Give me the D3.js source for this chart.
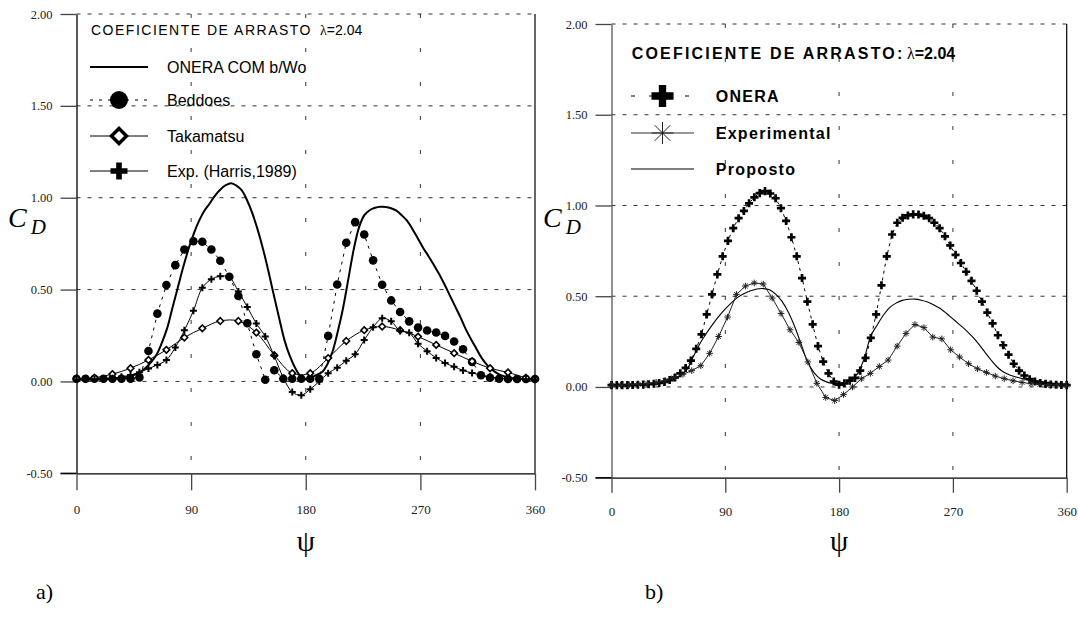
<!DOCTYPE html>
<html>
<head>
<meta charset="utf-8">
<script src="https://cdn.jsdelivr.net/npm/d3@7"></script>
<style>
  body { margin: 0; background: #fff; }
  svg { display: block; }
</style>
</head>
<body>
<svg id="fig" width="1078" height="617"></svg>
<script>
// ticks
const psiTicks = [0, 90, 180, 270, 360];
const cdTicks = [-0.5, 0, 0.5, 1, 1.5, 2];

// ONERA (both panels)
const oneraPsi = [0,4.2,8.4,12.6,16.7,20.9,25.1,29.3,33.5,37.7,41.9,46,50.2,54.4,58.6,62.8,67,71.2,75.3,79.5,
  83.7,87.9,92.1,96.3,100.5,104.7,108.8,113,117.2,121.4,125.6,129.8,134,138.1,142.3,146.5,150.7,154.9,159.1,163.3,
  167.4,171.6,175.8,180,184.2,188.4,192.6,196.7,200.9,205.1,209.3,213.5,217.7,221.9,226,230.2,234.4,238.6,242.8,247,
  251.2,255.3,259.5,263.7,267.9,272.1,276.3,280.5,284.7,288.8,293,297.2,301.4,305.6,309.8,314,318.1,322.3,326.5,330.7,
  334.9,339.1,343.3,347.4,351.6,355.8,360];
const oneraCd = [0.01,0.01,0.01,0.01,0.011,0.012,0.013,0.015,0.018,0.022,0.028,0.038,0.052,0.075,0.105,0.145,0.21,0.29,0.40,0.51,
  0.62,0.72,0.805,0.875,0.93,0.97,1.012,1.045,1.068,1.079,1.066,1.04,0.985,0.915,0.825,0.72,0.6,0.47,0.345,0.225,
  0.14,0.075,0.03,0.012,0.02,0.035,0.05,0.09,0.16,0.27,0.4,0.56,0.72,0.84,0.905,0.932,0.945,0.951,0.95,0.943,
  0.93,0.905,0.875,0.83,0.78,0.728,0.683,0.635,0.585,0.53,0.47,0.41,0.35,0.285,0.23,0.178,0.128,0.09,0.063,0.043,
  0.03,0.022,0.017,0.014,0.012,0.011,0.01];

// Beddoes and experimental share the same psi stations
const expPsi = [0,7.1,14.1,21.2,28.2,35.3,42.4,49.4,56.5,63.5,70.6,77.6,84.7,91.8,98.8,105.9,112.9,120,127.1,134.1,
  141.2,148.2,155.3,162.4,169.4,176.5,183.5,190.6,197.6,204.7,211.8,218.8,225.9,232.9,240,247.1,254.1,261.2,268.2,275.3,
  282.4,289.4,296.5,303.5,310.6,317.6,324.7,331.8,338.8,345.9,352.9,360];
const beddoesCd = [0.015,0.015,0.015,0.015,0.015,0.015,0.015,0.022,0.166,0.369,0.525,0.633,0.718,0.763,0.76,0.718,0.657,0.57,0.465,0.317,
  0.148,0.009,0.061,0.015,0.015,0.015,0.015,0.015,0.248,0.528,0.755,0.867,0.80,0.659,0.526,0.441,0.378,0.327,0.293,0.277,
  0.266,0.248,0.217,0.175,0.106,0.034,0.02,0.015,0.013,0.013,0.013,0.013];
const expCd = [0.01,0.01,0.012,0.015,0.018,0.025,0.035,0.05,0.07,0.09,0.117,0.185,0.278,0.385,0.51,0.556,0.573,0.567,0.49,0.405,
  0.315,0.245,0.138,0.02,-0.058,-0.075,-0.042,0.0,0.045,0.075,0.113,0.148,0.225,0.295,0.344,0.327,0.275,0.265,0.205,0.165,
  0.128,0.1,0.08,0.06,0.046,0.034,0.025,0.018,0.014,0.012,0.011,0.01];

// Takamatsu
const takaPsi = [0,14.1,28.2,42.4,56.5,70.6,84.7,98.8,112.9,127.1,141.2,155.3,169.4,183.5,197.6,211.8,225.9,240,254.1,268.2,
  282.4,296.5,310.6,324.7,338.8,352.9,360];
const takaCd = [0.015,0.02,0.04,0.072,0.117,0.172,0.239,0.289,0.329,0.329,0.266,0.143,0.045,0.045,0.127,0.22,0.279,0.299,0.279,0.244,
  0.199,0.154,0.11,0.072,0.049,0.02,0.013];

// Proposto (panel b)
const propPsi = [0,10,20,30,40,50,55,60,65,70,75,80,85,90,95,100,105,110,115,120,125,130,135,140,145,150,155,160,165,170,
  175,180,185,190,195,200,205,210,215,220,225,230,235,240,245,250,255,260,265,270,275,280,285,290,295,300,305,310,315,320,
  330,340,350,360];
const propCd = [0.01,0.01,0.012,0.015,0.025,0.045,0.065,0.1,0.17,0.24,0.295,0.345,0.39,0.43,0.465,0.495,0.515,0.53,0.54,0.542,
  0.535,0.51,0.47,0.41,0.33,0.235,0.14,0.08,0.045,0.028,0.02,0.02,0.025,0.04,0.08,0.16,0.28,0.34,0.395,0.437,
  0.462,0.477,0.483,0.484,0.478,0.468,0.452,0.432,0.405,0.375,0.345,0.315,0.28,0.24,0.195,0.15,0.11,0.082,0.066,0.055,
  0.04,0.03,0.02,0.015];

const serif = "'Liberation Serif','Times New Roman',serif";
const sans = "'Liberation Sans',Arial,sans-serif";

const svg = d3.select("#fig");

// panel scales
function panel(xr, yr) {
  return {
    x: d3.scaleLinear().domain([0, 360]).range(xr),
    y: d3.scaleLinear().domain([-0.5, 2]).range(yr)
  };
}
let pa = panel([76.5, 535], [473.3, 14]);
let pb = panel([611.5, 1066.7], [477.7, 24]);

// grid + axes + frame
function frame(p, xTick, axisColor) {
  let g = svg.append("g");
  let x0 = p.x(0), x1 = p.x(360), yb = p.y(-0.5), yt = p.y(2);

  // dashed horizontal grid
  g.selectAll(".hg").data(cdTicks.filter(d => d > -0.5)).enter()
    .append("line")
    .attr("x1", x0).attr("x2", x1)
    .attr("y1", d => p.y(d)).attr("y2", d => p.y(d))
    .attr("stroke", "#333").attr("stroke-width", 1)
    .attr("stroke-dasharray", "4,7");

  // dashed vertical grid
  g.selectAll(".vg").data([90, 180, 270]).enter()
    .append("line")
    .attr("x1", d => p.x(d)).attr("x2", d => p.x(d))
    .attr("y1", yt).attr("y2", yb)
    .attr("stroke", "#333").attr("stroke-width", 1)
    .attr("stroke-dasharray", "4,30");

  // right border
  g.append("line").attr("x1", x1).attr("x2", x1).attr("y1", yt).attr("y2", yb)
    .attr("stroke", "#000").attr("stroke-width", 1.2);

  // y axis
  let ya = g.append("g").attr("transform", `translate(${x0},0)`)
    .call(d3.axisLeft(p.y).tickValues(cdTicks).tickFormat(d => d.toFixed(2))
      .tickSize(16).tickPadding(8).tickSizeOuter(0));
  ya.select(".domain").attr("stroke", axisColor).attr("stroke-width", 1.3);
  ya.selectAll(".tick line").attr("stroke", "#444").attr("stroke-width", 1.3);
  ya.selectAll("text").style("font-family", serif).style("font-size", "12.5px").attr("fill", "#222");

  // x axis
  let xa = g.append("g").attr("transform", `translate(0,${yb})`)
    .call(d3.axisBottom(p.x).tickValues(psiTicks).tickSize(xTick).tickPadding(14).tickSizeOuter(0));
  xa.select(".domain").attr("stroke", "#000").attr("stroke-width", 1.3);
  xa.selectAll(".tick line").attr("stroke", "#444").attr("stroke-width", 1.3);
  xa.selectAll("text").style("font-family", serif).style("font-size", "13px").attr("fill", "#222");
  // horizontal axis line continues under the y tick
  g.append("line").attr("x1", x0 - 16).attr("x2", x0).attr("y1", yb).attr("y2", yb)
    .attr("stroke", "#000").attr("stroke-width", 1.3);
}

frame(pa, 17, "#000");
frame(pb, 15, "#555");

// marker shapes
const diamondPath = r => `M0,${-r}L${r},0L0,${r}L${-r},0Z`;
const plusPath = r => `M${-r},0H${r}M0,${-r}V${r}`;
const starPath = r => {
  let d = r * 0.707;
  return `M0,${-r}V${r}M${-d},${-d}L${d},${d}M${-d},${d}L${d},${-d}M${-r},0H${r}`;
};

function drawLine(p, psi, cd, opts) {
  let line = d3.line()
    .x(d => p.x(d[0])).y(d => p.y(d[1]))
    .curve(opts.curve || d3.curveLinear);
  svg.append("path")
    .datum(d3.zip(psi, cd))
    .attr("d", line)
    .attr("fill", "none")
    .attr("stroke", opts.color || "#000")
    .attr("stroke-width", opts.width || 1)
    .attr("stroke-dasharray", opts.dash || null);
}

function drawMarks(p, psi, cd, pathStr, opts) {
  svg.append("g").selectAll("path")
    .data(d3.zip(psi, cd)).enter()
    .append("path")
    .attr("transform", d => `translate(${p.x(d[0])},${p.y(d[1])})`)
    .attr("d", pathStr)
    .attr("fill", opts.fill || "none")
    .attr("stroke", opts.stroke || "none")
    .attr("stroke-width", opts.sw || 1);
}

// ---- panel a ----
drawLine(pa, oneraPsi, oneraCd, {width: 2, curve: d3.curveCatmullRom});
drawLine(pa, expPsi, beddoesCd, {width: 1, dash: "3,5"});
drawMarks(pa, expPsi, beddoesCd, d3.symbol(d3.symbolCircle, Math.PI * 4.3 * 4.3)(), {fill: "#000"});
drawLine(pa, takaPsi, takaCd, {width: 1, curve: d3.curveCatmullRom});
drawMarks(pa, takaPsi, takaCd, diamondPath(3.3), {fill: "#fff", stroke: "#000", sw: 1.6});
drawLine(pa, expPsi, expCd, {width: 1, curve: d3.curveCatmullRom});
drawMarks(pa, expPsi, expCd, plusPath(3.5), {stroke: "#000", sw: 2});

// ---- panel b ----
drawLine(pb, oneraPsi, oneraCd, {width: 1, dash: "3,4"});
drawMarks(pb, oneraPsi, oneraCd, d3.symbol(d3.symbolCross, 36)(), {fill: "#000"});
drawLine(pb, propPsi, propCd, {width: 1.1, curve: d3.curveCatmullRom});
drawLine(pb, expPsi, expCd, {width: 1, color: "#222"});
drawMarks(pb, expPsi, expCd, starPath(3.3), {stroke: "#222", sw: 1});

// ---- legend a ----
let legA = svg.append("g");
legA.append("text").attr("x", 91).attr("y", 34.5)
  .style("font-family", sans).style("font-size", "14px").style("letter-spacing", "1.5px")
  .text("COEFICIENTE DE ARRASTO");
legA.append("text").attr("x", 320).attr("y", 34.5)
  .style("font-family", sans).style("font-size", "14px")
  .call(t => t.append("tspan").style("font-family", serif).text("λ"))
  .call(t => t.append("tspan").text("=2.04"));

const legAItems = ["ONERA COM b/Wo", "Beddoes", "Takamatsu", "Exp. (Harris,1989)"];
const legAY = [67, 100, 136, 171];
legA.selectAll(".lt").data(legAItems).enter().append("text")
  .attr("x", 167).attr("y", (d, i) => legAY[i] + 5.8)
  .style("font-family", sans).style("font-size", "16px")
  .text(d => d);
legA.append("line").attr("x1", 90).attr("x2", 148).attr("y1", legAY[0]).attr("y2", legAY[0])
  .attr("stroke", "#000").attr("stroke-width", 2);
legA.append("line").attr("x1", 90).attr("x2", 148).attr("y1", legAY[1]).attr("y2", legAY[1])
  .attr("stroke", "#000").attr("stroke-width", 1).attr("stroke-dasharray", "3,6");
legA.append("circle").attr("cx", 119).attr("cy", legAY[1]).attr("r", 9).attr("fill", "#000");
legA.append("line").attr("x1", 90).attr("x2", 148).attr("y1", legAY[2]).attr("y2", legAY[2])
  .attr("stroke", "#000").attr("stroke-width", 1);
legA.append("path").attr("transform", `translate(119,${legAY[2]})`).attr("d", diamondPath(7.5))
  .attr("fill", "#fff").attr("stroke", "#000").attr("stroke-width", 3.5);
legA.append("line").attr("x1", 90).attr("x2", 148).attr("y1", legAY[3]).attr("y2", legAY[3])
  .attr("stroke", "#000").attr("stroke-width", 1);
legA.append("path").attr("transform", `translate(119,${legAY[3]})`)
  .attr("d", d3.symbol(d3.symbolCross, 160)()).attr("fill", "#000");

// ---- legend b ----
let legB = svg.append("g");
legB.append("text").attr("x", 631.7).attr("y", 58.5)
  .style("font-family", sans).style("font-size", "16px").style("font-weight", "bold")
  .style("letter-spacing", "2.2px")
  .text("COEFICIENTE DE ARRASTO:");
legB.append("text").attr("x", 907).attr("y", 58.5)
  .style("font-family", sans).style("font-size", "16px").style("font-weight", "bold")
  .call(t => t.append("tspan").style("font-family", serif).style("font-weight", "normal").text("λ"))
  .call(t => t.append("tspan").text("=2.04"));

const legBItems = ["ONERA", "Experimental", "Proposto"];
const legBY = [96, 133, 169];
legB.selectAll(".lt").data(legBItems).enter().append("text")
  .attr("x", 715.7).attr("y", (d, i) => legBY[i] + 5.8)
  .style("font-family", sans).style("font-size", "16px").style("font-weight", "bold")
  .style("letter-spacing", "1.3px")
  .text(d => d);
legB.append("line").attr("x1", 631).attr("x2", 694).attr("y1", legBY[0]).attr("y2", legBY[0])
  .attr("stroke", "#000").attr("stroke-width", 1).attr("stroke-dasharray", "4,14");
legB.append("path").attr("transform", `translate(662.5,${legBY[0]})`)
  .attr("d", d3.symbol(d3.symbolCross, 270)()).attr("fill", "#000");
legB.append("line").attr("x1", 631).attr("x2", 694).attr("y1", legBY[1]).attr("y2", legBY[1])
  .attr("stroke", "#333").attr("stroke-width", 1.2);
legB.append("path").attr("transform", `translate(662.5,${legBY[1]})`).attr("d", starPath(11))
  .attr("stroke", "#222").attr("stroke-width", 1).attr("fill", "none");
legB.append("line").attr("x1", 631).attr("x2", 694).attr("y1", legBY[2]).attr("y2", legBY[2])
  .attr("stroke", "#000").attr("stroke-width", 1.1);

// ---- axis titles and panel letters ----
[[pa, 8], [pb, 543]].forEach(([p, cx]) => {
  let t = svg.append("text").attr("x", cx).attr("y", 227)
    .style("font-family", serif).style("font-style", "italic").style("font-size", "28px");
  t.append("tspan").text("C");
  t.append("tspan").attr("dx", 4).attr("dy", 7).style("font-size", "21px").text("D");

  svg.append("text").attr("x", p.x(180)).attr("y", 551)
    .attr("text-anchor", "middle")
    .style("font-family", serif).style("font-size", "29px")
    .text("ψ");
});

svg.append("text").attr("x", 36).attr("y", 599)
  .style("font-family", serif).style("font-size", "22px").text("a)");
svg.append("text").attr("x", 645).attr("y", 599)
  .style("font-family", serif).style("font-size", "22px").text("b)");
</script>
</body>
</html>
